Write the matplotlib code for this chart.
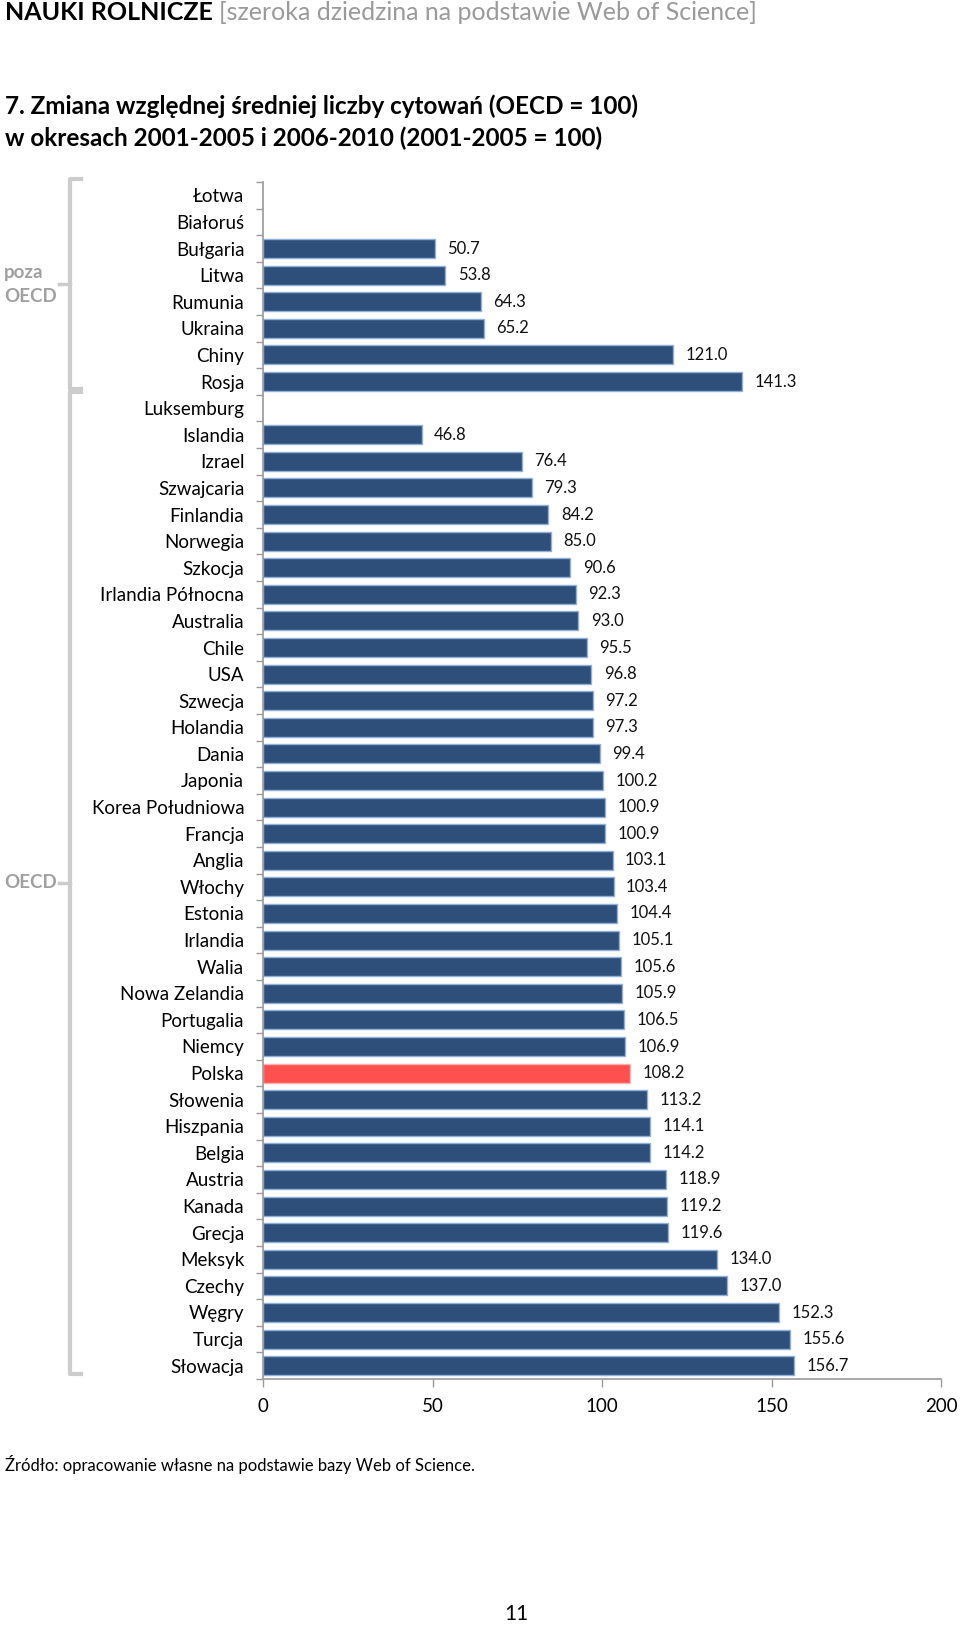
import numpy as np
import matplotlib
matplotlib.use('Agg')
import matplotlib.pyplot as plt
import matplotlib.transforms as mtrans

plt.rcParams['font.family'] = ['Lato', 'DejaVu Sans']

countries = ['Łotwa', 'Białoruś', 'Bułgaria', 'Litwa', 'Rumunia', 'Ukraina', 'Chiny', 'Rosja',
             'Luksemburg', 'Islandia', 'Izrael', 'Szwajcaria', 'Finlandia', 'Norwegia', 'Szkocja',
             'Irlandia Północna', 'Australia', 'Chile', 'USA', 'Szwecja', 'Holandia', 'Dania',
             'Japonia', 'Korea Południowa', 'Francja', 'Anglia', 'Włochy', 'Estonia', 'Irlandia',
             'Walia', 'Nowa Zelandia', 'Portugalia', 'Niemcy', 'Polska', 'Słowenia', 'Hiszpania',
             'Belgia', 'Austria', 'Kanada', 'Grecja', 'Meksyk', 'Czechy', 'Węgry', 'Turcja',
             'Słowacja']
values = [np.nan, np.nan, 50.7, 53.8, 64.3, 65.2, 121.0, 141.3,
          np.nan, 46.8, 76.4, 79.3, 84.2, 85.0, 90.6,
          92.3, 93.0, 95.5, 96.8, 97.2, 97.3, 99.4,
          100.2, 100.9, 100.9, 103.1, 103.4, 104.4, 105.1,
          105.6, 105.9, 106.5, 106.9, 108.2, 113.2, 114.1,
          114.2, 118.9, 119.2, 119.6, 134.0, 137.0, 152.3, 155.6,
          156.7]
groups = [('poza\nOECD', 0, 7), ('OECD', 8, 44)]
highlight = 'Polska'
xticks = [0, 50, 100, 150, 200]

BLUE = '#2F4F7B'; BLUE_EDGE = '#8FB0D8'
RED = '#FF5050'; RED_EDGE = '#FFB0B0'
GREY = '#A0A0A0'; AXG = '#9A9A9A'

fig = plt.figure(figsize=(9.6, 16.25), dpi=100)
ax = fig.add_axes([263/960, 1-1379/1625, 678/960, 1197/1625])

y = np.arange(len(countries))
cols = [RED if c == highlight else BLUE for c in countries]
ecols = [RED_EDGE if c == highlight else BLUE_EDGE for c in countries]
ax.barh(y, values, height=0.72, color=cols, edgecolor=ecols, linewidth=1.0)

for yi, v in zip(y, values):
    if np.isnan(v):
        continue
    ax.annotate(f'{v:.1f}', (v, yi), xytext=(9, 0), textcoords='offset points',
                ha='left', va='center', fontsize=12, color='#111')

ax.set_xlim(0, 200)
ax.set_ylim(len(countries) - 0.5, -0.5)
ax.set_xticks(xticks)
ax.set_xticklabels([str(t) for t in xticks], fontsize=13.5)
ax.set_yticks(y)
ax.set_yticklabels(countries, fontsize=13.5)
ax.set_yticks(np.arange(len(countries) + 1) - 0.5, minor=True)
ax.tick_params(axis='y', which='major', length=0, pad=13.5)
ax.tick_params(axis='y', which='minor', length=5, color=AXG, width=1)
ax.tick_params(axis='x', length=6, color=AXG, width=1, pad=8)
for s in ['top', 'right']:
    ax.spines[s].set_visible(False)
for s in ['left', 'bottom']:
    ax.spines[s].set_color(AXG)
    ax.spines[s].set_linewidth(1.2)

# group brackets: x in figure pixels, y in data
tr = mtrans.blended_transform_factory(fig.transFigure, ax.transData)
bx = 70/960; hook = 11/960; nub = 11/960
for label, a, b in groups:
    top = a - 0.5 - 0.1; bot = b + 0.5 - 0.2
    mid = (top + bot) / 2
    ax.plot([bx + hook, bx, bx, bx + hook], [top, top, bot, bot], transform=tr,
            color='#CCCCCC', lw=3, solid_joinstyle='round', clip_on=False)
    ax.plot([bx - nub, bx], [mid, mid], transform=tr, color='#CCCCCC', lw=2.5, clip_on=False)
    ax.text(4/960, mid, label, transform=tr, ha='left', va='center', fontsize=13.5,
            weight='bold', color=GREY, linespacing=1.45, clip_on=False)

fig.text(5/960, 1-13/1625, 'NAUKI ROLNICZE', fontsize=18, weight='bold', color='#000',
         ha='left', va='center')
t1 = fig.text(5/960, 1-13/1625, 'NAUKI ROLNICZE ', fontsize=18, weight='bold', alpha=0,
              ha='left', va='center')
fig.canvas.draw()
bb = t1.get_window_extent()
fig.text(bb.x1/960, 1-13/1625, '[szeroka dziedzina na podstawie Web of Science]', fontsize=18,
         color='#9A9A9A', ha='left', va='center')
fig.text(5/960, 1-106/1625, '7. Zmiana względnej średniej liczby cytowań (OECD = 100)',
         fontsize=17.5, weight='bold', ha='left', va='center')
fig.text(5/960, 1-138/1625, 'w okresach 2001-2005 i 2006-2010 (2001-2005 = 100)',
         fontsize=17.5, weight='bold', ha='left', va='center')
fig.text(5/960, 1-1465/1625, 'Źródło: opracowanie własne na podstawie bazy Web of Science.',
         fontsize=12, ha='left', va='center')
fig.text(516/960, 1-1614/1625, '11', fontsize=15, ha='center', va='center')

fig.savefig('out.png', dpi=100, facecolor='white')
